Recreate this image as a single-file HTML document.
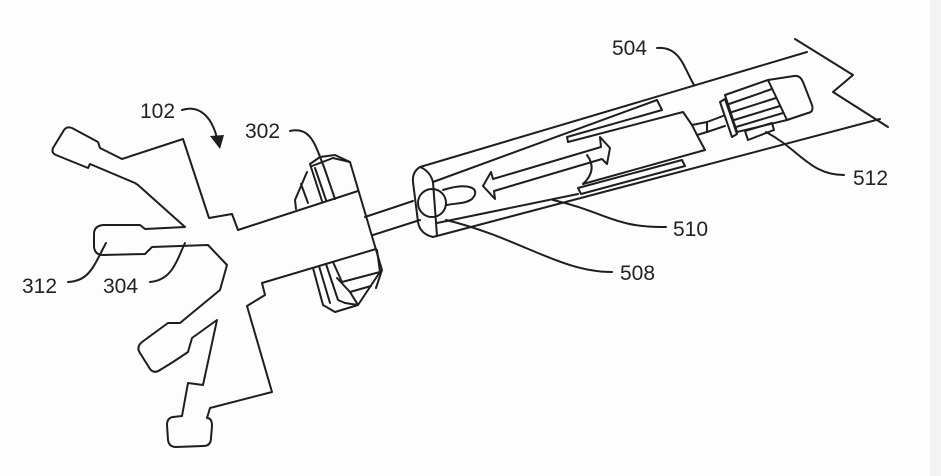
<!DOCTYPE html>
<html><head><meta charset="utf-8"><style>
html,body{margin:0;padding:0;background:#fdfdfd;}
svg{display:block;}
text{font-family:"Liberation Sans",Arial,sans-serif;font-size:21px;fill:#222;}
</style></head><body>
<svg width="941" height="476" viewBox="0 0 941 476" xmlns="http://www.w3.org/2000/svg">
<rect x="0" y="0" width="941" height="476" fill="#fdfdfd"/>
<rect x="930" y="0" width="11" height="476" fill="#f3f3f3"/>
<g fill="none" stroke="#1e1e1e" stroke-width="2" stroke-linejoin="round" stroke-linecap="round">
<path d="M238,230 L232,214 L209,218 L183,139 L122,159 L100,148 L98,142 L72,128 Q67,126 64,130 L53,148 Q51,153 56,155 L88,168 L90,164 L135,183 L138,185 L185,227 L145,229 L140,225 L103,225 Q94,226 94,234 L94,247 Q95,255 103,255 L145,254 L152,247 L208,245 L227,265 L220,290 L180,323 L168,323 L142,342 Q136,347 140,353 L150,369 Q154,374 160,370 L173,362 L188,352 L192,338 L217,320 L203,385 L188,383 L182,416 L173,417 Q167,418 167,425 L168,440 Q169,447 176,447 L203,446 Q211,446 211,438 L212,426 Q212,418 207,418 L210,408 L272,392 L247,306 L265,295 L262,283"/>
<path d="M238,230 L358,191"/>
<path d="M262,283 L376,249"/>
<path d="M322,201 L310,164 L320,157 L335,155 L350,162 L382,270 L376,288"/>
<path d="M315,168 L326,200"/>
<path d="M312,166 L333,158 L350,162"/>
<path d="M324,167 L335,199"/>
<path d="M307,172 L295,200 L296,209"/>
<path d="M301,184 L308,203"/>
<path d="M313,268 L323,305 L335,312 L358,305 L380,272 L377,250"/>
<path d="M319,266 L330,303"/>
<path d="M326,264 L338,300 L345,303"/>
<path d="M333,262 L342,282 L380,272"/>
<path d="M337,278 L350,292 L371,286"/>
<path d="M345,303 L358,305"/>
<path d="M350,292 L358,305"/>
<path d="M365,217 L413,201"/>
<path d="M373,235 L420,220"/>
<path d="M807,52 L420,167 Q412,172 413,182 L418,222 Q420,234 433,237 L880,119"/>
<path d="M420,167 Q430,171 433,182 L437,236"/>
<path d="M433,182 L657,100 L662,110 L567,137 L568,142 L683,112 L692,125 L697,135 L705,150 L583,184"/>
<path d="M692,125 L707,122 L723,116"/>
<path d="M697,135 L707,132 L725,126"/>
<path d="M707,122 L707,132"/>
<path d="M437,223 L578,194"/>
<path d="M578,188 L682,160 L685,166 L581,194 Z"/>
<path d="M795,39 L853,75 L833,92 L888,127"/>
<circle cx="432" cy="203" r="14"/>
<path d="M443,190 C468,182 482,188 472,199 C465,204 456,203 447,205"/>
<path d="M491,172 L483,186 L495,199 L494,191 L602,159 L607,164 L610,148 L600,137 L601,147 L493,179 Z"/>
<path d="M587,155 Q598,170 583,184"/>
<path d="M725,95 L768,80 L787,120 L737,132 Z"/>
<path d="M729,104 L772,89"/>
<path d="M732,112 L776,98"/>
<path d="M734,120 L780,106"/>
<path d="M736,127 L783,113"/>
<path d="M768,80 L794,76 Q800,75 803,82 L812,105 Q814,112 808,113 L787,120"/>
<path d="M720,102 L725,99 L737,134 L732,137 Z"/>
<path d="M745,131 L772,123 L774,130 L748,140 Z"/>
<path d="M182,110 C200,104 212,118 217,138"/>
<path d="M290,131 C312,126 316,148 324,167"/>
<path d="M68,282 C90,281 94,265 106,243"/>
<path d="M150,282 C172,280 176,262 185,243"/>
<path d="M657,48 C680,46 684,68 694,85"/>
<path d="M553,200 C605,212 615,228 666,227"/>
<path d="M446,220 C520,238 560,272 612,272"/>
<path d="M766,132 C800,150 810,175 844,175"/>
</g>
<path d="M210,136 L224,135 L220,149 Z" fill="#1e1e1e"/>
<text x="140" y="118">102</text>
<text x="245" y="138">302</text>
<text x="22" y="293">312</text>
<text x="103" y="293">304</text>
<text x="612" y="55">504</text>
<text x="853" y="185">512</text>
<text x="673" y="236">510</text>
<text x="620" y="280">508</text>
</svg>
</body></html>
